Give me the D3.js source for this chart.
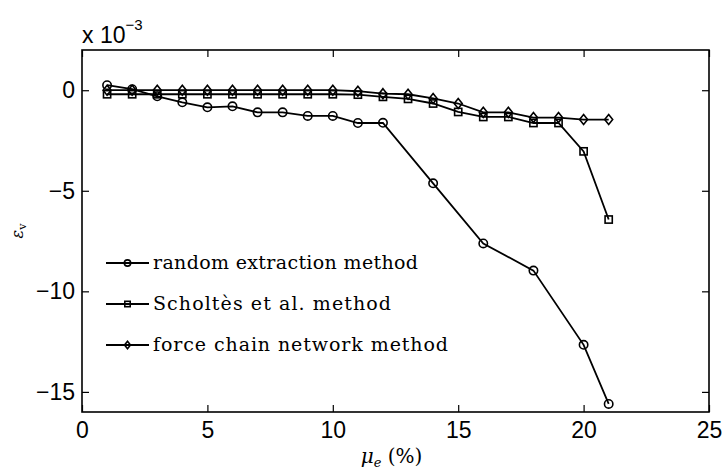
<!DOCTYPE html>
<html>
<head>
<meta charset="utf-8">
<script src="https://cdn.jsdelivr.net/npm/d3@7"></script>
<style>
  body { margin: 0; background: #fff; }
  svg { display: block; }
</style>
</head>
<body>
<svg id="chart" width="723" height="472"></svg>
<script>
// values in units of 1e-3
var xRandom = [1, 2, 3, 4, 5, 6, 7, 8, 9, 10, 11, 12, 14, 16, 18, 20, 21];
var yRandom = [0.25, 0.05, -0.3, -0.6, -0.85, -0.8, -1.1, -1.1, -1.28, -1.28, -1.63, -1.62, -4.63, -7.62, -8.97, -12.66, -15.6];

var xScholtes = [1, 2, 3, 4, 5, 6, 7, 8, 9, 10, 11, 12, 13, 14, 15, 16, 17, 18, 19, 20, 21];
var yScholtes = [-0.2, -0.2, -0.2, -0.2, -0.2, -0.2, -0.2, -0.2, -0.2, -0.2, -0.22, -0.33, -0.43, -0.66, -1.08, -1.33, -1.33, -1.63, -1.63, -3.04, -6.43];

var xForce = [1, 2, 3, 4, 5, 6, 7, 8, 9, 10, 11, 12, 13, 14, 15, 16, 17, 18, 19, 20, 21];
var yForce = [0, 0, 0, 0, 0, 0, 0, 0, 0, 0, -0.05, -0.17, -0.2, -0.41, -0.66, -1.1, -1.1, -1.36, -1.36, -1.46, -1.46];

var seriesNames = ["random extraction method", "Scholtès et al. method", "force chain network method"];
var legendWidths = [265, 238, 295];
var xTicks = [0, 5, 10, 15, 20, 25];
var yTicks = [0, -5, -10, -15];

var svg = d3.select("#chart");
var margin = {top: 50, right: 14, bottom: 60, left: 82},
    width = 723 - margin.left - margin.right,
    height = 472 - margin.top - margin.bottom;

var g = svg.append("g").attr("transform", "translate(" + margin.left + "," + margin.top + ")");

var x = d3.scaleLinear().domain([0, 25]).range([0, width]);
var y = d3.scaleLinear().domain([-16, 2]).range([height, 0]);

var tickFont = "'Liberation Sans', Arial, sans-serif";

function styleAxis(sel, showText) {
    sel.select(".domain").remove();
    sel.selectAll(".tick line").attr("stroke", "#000").attr("stroke-width", 1.2);
    sel.selectAll(".tick text")
        .attr("fill", "#000")
        .style("font-family", tickFont)
        .style("font-size", "23px");
    if (!showText) sel.selectAll(".tick text").remove();
}

g.append("g")
    .attr("transform", "translate(0," + height + ")")
    .call(d3.axisBottom(x).tickValues(xTicks).tickSize(-7).tickPadding(10))
    .call(styleAxis, true);

g.append("g")
    .call(d3.axisTop(x).tickValues(xTicks).tickSize(-7))
    .call(styleAxis, false);

g.append("g")
    .call(d3.axisLeft(y).tickValues(yTicks).tickSize(-7).tickPadding(7))
    .call(styleAxis, true);

g.append("g")
    .attr("transform", "translate(" + width + ",0)")
    .call(d3.axisRight(y).tickValues(yTicks).tickSize(-7))
    .call(styleAxis, false);

// box
g.append("rect")
    .attr("width", width)
    .attr("height", height)
    .attr("fill", "none")
    .attr("stroke", "#000")
    .attr("stroke-width", 1.6);

// exponent label
var expo = svg.append("text")
    .attr("x", margin.left)
    .attr("y", 43)
    .style("font-family", tickFont)
    .style("font-size", "23px")
    .attr("fill", "#000");
expo.append("tspan").text("x 10");
expo.append("tspan").attr("dy", -13).style("font-size", "15px").text("\u22123");

// axis titles
var xlab = svg.append("text")
    .attr("x", margin.left + width / 2 - 4)
    .attr("y", 463)
    .attr("text-anchor", "middle")
    .style("font-family", "'DejaVu Serif', serif")
    .style("font-size", "20px")
    .attr("fill", "#000");
xlab.append("tspan").style("font-style", "italic").text("\u03bc");
xlab.append("tspan").attr("dy", 4).style("font-size", "13px").style("font-style", "italic").text("e");
xlab.append("tspan").attr("dy", -4).text(" (%)");

var ylab = svg.append("text")
    .attr("transform", "translate(23," + (margin.top + height / 2) + ") rotate(-90)")
    .attr("text-anchor", "middle")
    .style("font-family", "'DejaVu Serif', serif")
    .style("font-size", "16px")
    .attr("fill", "#000");
ylab.append("tspan").style("font-style", "italic").text("\u03b5");
ylab.append("tspan").attr("dy", 3).style("font-size", "11px").text("v");

var line = d3.line()
    .x(function(d) { return x(d[0]); })
    .y(function(d) { return y(d[1]); });

function drawMarker(sel, type, size) {
    if (type === "circle") {
        sel.append("circle").attr("r", size);
    } else if (type === "square") {
        sel.append("rect").attr("x", -size).attr("y", -size).attr("width", 2 * size).attr("height", 2 * size);
    } else {
        sel.append("path").attr("d", "M0," + (-size * 1.25) + "L" + size + ",0L0," + (size * 1.25) + "L" + (-size) + ",0Z");
    }
}

var series = [
    {name: seriesNames[0], xs: xRandom, ys: yRandom, marker: "circle", size: 4.2},
    {name: seriesNames[1], xs: xScholtes, ys: yScholtes, marker: "square", size: 3.6},
    {name: seriesNames[2], xs: xForce, ys: yForce, marker: "diamond", size: 4}
];

series.forEach(function(s) {
    var pts = s.xs.map(function(v, i) { return [v, s.ys[i]]; });
    g.append("path")
        .datum(pts)
        .attr("d", line)
        .attr("fill", "none")
        .attr("stroke", "#000")
        .attr("stroke-width", 1.8);
    g.selectAll(".m-" + s.marker)
        .data(pts)
        .enter().append("g")
        .attr("class", "m-" + s.marker)
        .attr("transform", function(d) { return "translate(" + x(d[0]) + "," + y(d[1]) + ")"; })
        .attr("fill", "none")
        .attr("stroke", "#000")
        .attr("stroke-width", 1.6)
        .each(function() { drawMarker(d3.select(this), s.marker, s.size); });
});

// legend
var legendY = [263, 304, 345];
var legend = svg.append("g");
series.forEach(function(s, i) {
    var row = legend.append("g").attr("transform", "translate(0," + legendY[i] + ")");
    row.append("line")
        .attr("x1", 106).attr("x2", 149)
        .attr("stroke", "#000").attr("stroke-width", 1.8);
    var m = row.append("g")
        .attr("transform", "translate(127.5,0)")
        .attr("fill", "none").attr("stroke", "#000").attr("stroke-width", 1.6);
    drawMarker(m, s.marker, s.size * 0.75);
    row.append("text")
        .attr("x", 153)
        .attr("y", 6)
        .attr("textLength", legendWidths[i])
        .attr("lengthAdjust", "spacing")
        .style("font-family", "'DejaVu Serif', serif")
        .style("font-size", "19px")
        .attr("fill", "#000")
        .text(s.name);
});
</script>
</body>
</html>
